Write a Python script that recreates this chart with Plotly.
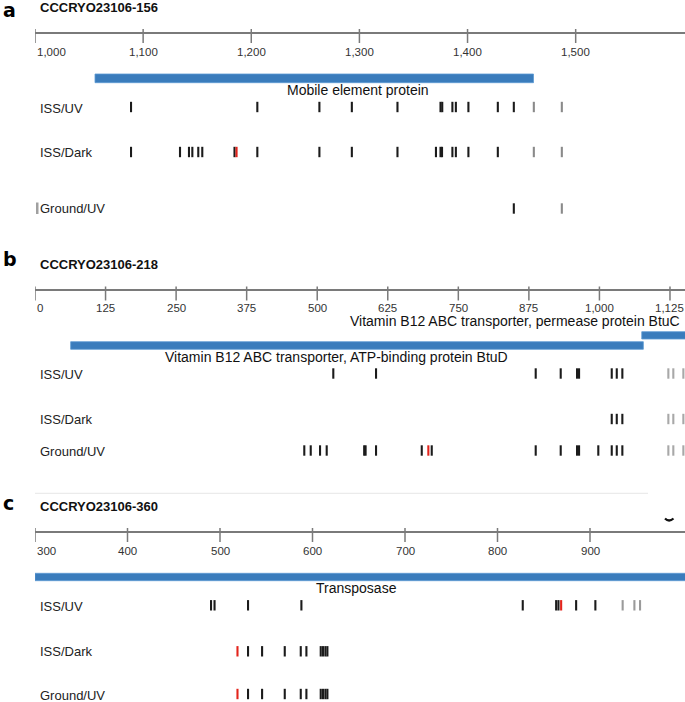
import plotly.graph_objects as go

W, H = 685, 702

# ------------------------------------------------------------------ data
panel_letters = ["a", "b", "c"]
panel_titles = ["CCCRYO23106-156", "CCCRYO23106-218", "CCCRYO23106-360"]
row_labels = ["ISS/UV", "ISS/Dark", "Ground/UV"]

a_tickvals = [1000, 1100, 1200, 1300, 1400, 1500]
a_ticktext = ["1,000", "1,100", "1,200", "1,300", "1,400", "1,500"]
b_tickvals = [0, 125, 250, 375, 500, 625, 750, 875, 1000, 1125]
b_ticktext = ["0", "125", "250", "375", "500", "625", "750", "875", "1,000", "1,125"]
c_tickvals = [300, 400, 500, 600, 700, 800, 900]
c_ticktext = ["300", "400", "500", "600", "700", "800", "900"]

a_gene_names = ["Mobile element protein"]
a_gene_start = [1055.5]
a_gene_end = [1461]
b_gene_names = ["Vitamin B12 ABC transporter, permease protein BtuC",
                "Vitamin B12 ABC transporter, ATP-binding protein BtuD"]
b_gene_start = [1075, 63.2]
b_gene_end = [1170, 1077.8]
c_gene_names = ["Transposase"]
c_gene_start = [300]
c_gene_end = [1010]

# variant positions per row (ISS/UV, ISS/Dark, Ground/UV)
a_iss_uv_black = [1088.8, 1205.6, 1263, 1293, 1335.2, 1375, 1376.6, 1386, 1389.2, 1400.8, 1428, 1442.8]
a_iss_uv_red = []
a_iss_uv_gray = [1461.3, 1487.2]
a_iss_dark_black = [1088.8, 1134.1, 1142.4, 1145.5, 1151, 1154.7, 1184.5, 1205.6, 1263, 1293, 1335.2,
                    1370.8, 1375, 1376.4, 1386, 1389.2, 1400.8, 1428]
a_iss_dark_red = [1186.4]
a_iss_dark_gray = [1461.3, 1487.2]
a_ground_uv_black = [1442.8]
a_ground_uv_red = []
a_ground_uv_gray = [1487.2]

b_iss_uv_black = [528.5, 604.2, 887.1, 931.4, 960.3, 963.9, 1021.8, 1030.7, 1040.6]
b_iss_uv_red = []
b_iss_uv_gray = [1122.1, 1130.9, 1148.7]
b_iss_dark_black = [1021.8, 1030.7, 1040.6]
b_iss_dark_red = []
b_iss_dark_gray = [1122.1, 1130.9, 1148.7]
b_ground_uv_black = [477.1, 488.5, 505, 516.8, 583.2, 585.7, 604.2, 685.2, 702.9, 887.1, 931.4,
                     960.3, 963.9, 998, 1021.8, 1030.7, 1040.6]
b_ground_uv_red = [696.9]
b_ground_uv_gray = [1122.1, 1130.9, 1148.7]

c_iss_uv_black = [490.3, 494.1, 530.3, 588, 827.3, 863.4, 865.9, 885, 905.8]
c_iss_uv_red = [868.8]
c_iss_uv_gray = [935.3, 948, 954.1]
c_iss_dark_black = [530.3, 545.5, 570, 587.3, 593.4, 608.9, 611.3, 613.9, 616.1]
c_iss_dark_red = [518.9]
c_iss_dark_gray = []
c_ground_uv_black = [530.3, 545.5, 570, 587.3, 593.4, 608.9, 611.3, 613.9, 616.1]
c_ground_uv_red = [518.9]
c_ground_uv_gray = []

# ------------------------------------------------------------------ layout config (pixels)
FONT = "Liberation Sans, Arial, Helvetica, sans-serif"
LETTER_FONT = "DejaVu Sans, Liberation Sans, Arial, sans-serif"
BLUE = "#3a7cbc"
BLACK = "#1b1b1b"
RED = "#e3241c"
AXIS = "#7a7a7a"
X0_PX = 35

panels = [
    dict(ticks=(a_tickvals, a_ticktext), xrange=[1000, 1601.1],
         genes=(a_gene_names, a_gene_start, a_gene_end),
         gene_y=[(74, 82.7)],
         gene_lbl=[(1298.7, 89.5, "center")],
         axis_y=33.3, tick_y=(29, 43), ticklbl_y=52, tickfont=11.5,
         letter_y=10, title_y=7.5,
         rows_y=[107, 152, 208.5], rowlbl_y=[108, 152.7, 208.5],
         marks=[(a_iss_uv_black, a_iss_uv_red, a_iss_uv_gray),
                (a_iss_dark_black, a_iss_dark_red, a_iss_dark_gray),
                (a_ground_uv_black, a_ground_uv_red, a_ground_uv_gray)],
         gray="#8a8a8a"),
    dict(ticks=(b_tickvals, b_ticktext), xrange=[0, 1151.6],
         genes=(b_gene_names, b_gene_start, b_gene_end),
         gene_y=[(331.7, 339), (341.7, 349.3)],
         gene_lbl=[(1145.8, 321, "right"), (534.6, 356.5, "center")],
         axis_y=290, tick_y=(286.5, 300.5), ticklbl_y=308, tickfont=11.5,
         letter_y=259, title_y=264.7,
         rows_y=[373.5, 419, 450.5], rowlbl_y=[374, 419.3, 451.5],
         marks=[(b_iss_uv_black, b_iss_uv_red, b_iss_uv_gray),
                (b_iss_dark_black, b_iss_dark_red, b_iss_dark_gray),
                (b_ground_uv_black, b_ground_uv_red, b_ground_uv_gray)],
         gray="#a8a8a8"),
    dict(ticks=(c_tickvals, c_ticktext), xrange=[300, 1002.7],
         genes=(c_gene_names, c_gene_start, c_gene_end),
         gene_y=[(573.3, 580.7)],
         gene_lbl=[(647.8, 587.5, "center")],
         axis_y=531.7, tick_y=(528, 542), ticklbl_y=550.7, tickfont=11.5,
         letter_y=503, title_y=506,
         rows_y=[605.3, 651.3, 694], rowlbl_y=[606.7, 651, 695],
         marks=[(c_iss_uv_black, c_iss_uv_red, c_iss_uv_gray),
                (c_iss_dark_black, c_iss_dark_red, c_iss_dark_gray),
                (c_ground_uv_black, c_ground_uv_red, c_ground_uv_gray)],
         gray="#9a9a9a"),
]

fig = go.Figure()
annotations = []
shapes = []
MARK_H = 5.2

for i, p in enumerate(panels):
    xa = "x" if i == 0 else f"x{i+1}"
    axname = "xaxis" if i == 0 else f"xaxis{i+1}"
    tv, tt = p["ticks"]
    fig.update_layout(**{axname: dict(
        domain=[X0_PX / W, 1], range=p["xrange"], anchor="free",
        position=1 - p["axis_y"] / H, side="bottom",
        showline=True, linecolor=AXIS, linewidth=1.6,
        ticks="", showticklabels=False, showgrid=False, zeroline=False,
        fixedrange=True,
        **({} if i == 0 else {"overlaying": "x"}))})

    # tick marks crossing the axis line
    tx, ty = [], []
    for v in tv:
        tx += [v, v, None]
        ty += [p["tick_y"][0], p["tick_y"][1], None]
    fig.add_trace(go.Scatter(x=tx, y=ty, xaxis=xa, yaxis="y", mode="lines",
                             line=dict(color=AXIS, width=1.5), hoverinfo="skip",
                             showlegend=False))
    # tick labels
    for j, (v, t) in enumerate(zip(tv, tt)):
        annotations.append(dict(x=v, y=p["ticklbl_y"], xref=xa, yref="y", text=t,
                                showarrow=False, xanchor="left" if j == 0 else "center",
                                yanchor="middle", xshift=0,
                                font=dict(family=FONT, size=p["tickfont"], color="#333333")))

    # gene bars
    names, starts, ends = p["genes"]
    for (nm, s, e), (y0, y1), (lx, ly, la) in zip(zip(names, starts, ends), p["gene_y"], p["gene_lbl"]):
        shapes.append(dict(type="rect", xref=xa, yref="y", x0=s, x1=e, y0=y0, y1=y1,
                           fillcolor=BLUE, line=dict(color="#5d9bd3", width=0.8), layer="above"))
        annotations.append(dict(x=lx, y=ly, xref=xa, yref="y", text=nm, showarrow=False,
                                xanchor=la, yanchor="middle",
                                font=dict(family=FONT, size=14, color="#111111")))

    # variant marks
    for r, (blk, red, gry) in enumerate(p["marks"]):
        yc = p["rows_y"][r]
        for vals, col in ((gry, p["gray"]), (blk, BLACK), (red, RED)):
            if not vals:
                continue
            mx, my = [], []
            for v in vals:
                mx += [v, v, None]
                my += [yc - MARK_H, yc + MARK_H, None]
            fig.add_trace(go.Scatter(x=mx, y=my, xaxis=xa, yaxis="y", mode="lines",
                                     line=dict(color=col, width=2.1), hoverinfo="skip",
                                     showlegend=False))
        annotations.append(dict(x=38 / W, y=p["rowlbl_y"][r], xref="paper", yref="y",
                                text=row_labels[r], showarrow=False, xanchor="left",
                                yanchor="middle",
                                font=dict(family=FONT, size=13, color="#222222")))

    # panel letter and title
    annotations.append(dict(x=1 / W, y=p["letter_y"], xref="paper", yref="y",
                            text=f"<b>{panel_letters[i]}</b>", showarrow=False,
                            xanchor="left", yanchor="middle",
                            font=dict(family=LETTER_FONT, size=19, color="#000000")))
    annotations.append(dict(x=38 / W, y=p["title_y"], xref="paper", yref="y",
                            text=f"<b>{panel_titles[i]}</b>", showarrow=False,
                            xanchor="left", yanchor="middle",
                            font=dict(family=FONT, size=13, color="#111111")))

# decorations seen in the reference
shapes.append(dict(type="line", xref="paper", yref="y", x0=X0_PX / W, x1=648 / W, y0=493.3, y1=493.3,
                   line=dict(color="#e6e6e6", width=1)))
shapes.append(dict(type="rect", xref="paper", yref="y", x0=36 / W, x1=38.5 / W, y0=202.5, y1=214,
                   fillcolor="#a0a0a0", line=dict(width=0)))
shapes.append(dict(type="path", xref="paper", yref="y",
                   path=f"M {665/W},518.5 Q {669/W},522.5 {673.5/W},518.5",
                   line=dict(color="#111111", width=2.2)))

fig.update_layout(
    width=W, height=H, autosize=False,
    margin=dict(l=0, r=0, t=0, b=0, pad=0),
    paper_bgcolor="white", plot_bgcolor="rgba(0,0,0,0)",
    yaxis=dict(domain=[0, 1], range=[H, 0], visible=False, fixedrange=True),
    showlegend=False,
    annotations=annotations, shapes=shapes,
)

fig.write_html(
    "out.html",
    config={"displayModeBar": False},
    post_script="document.body.style.margin='0';document.body.style.padding='0';"
                "document.body.style.overflow='hidden';",
)
